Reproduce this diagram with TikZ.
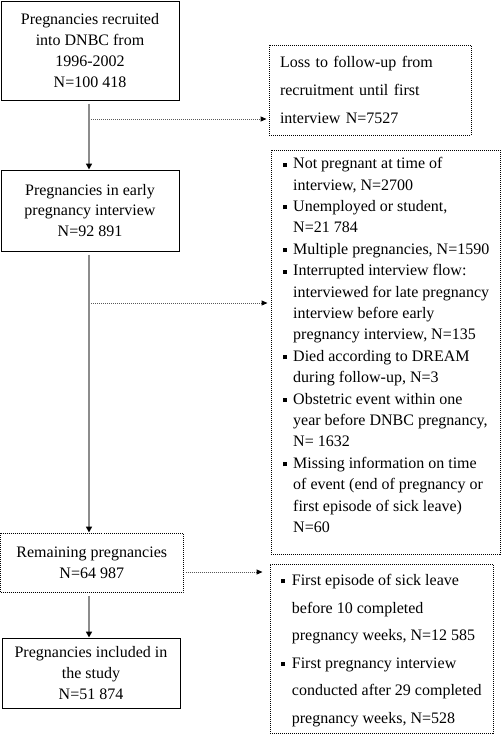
\documentclass[tikz,border=0pt]{standalone}
\usepackage{fontspec}
\setmainfont{Liberation Serif}
\usetikzlibrary{arrows.meta}
\newcommand\bul{\makebox[10.5pt][l]{\raisebox{2pt}{\rule{4pt}{4pt}}}}
\newcommand\ind{\hspace*{10.5pt}}
\begin{document}
\begin{tikzpicture}[x=1pt,y=-1pt,
  txt/.style={font=\fontsize{16}{20.7}\selectfont},
  wide/.style={font=\fontsize{16}{27.6}\selectfont},
  list/.style={font=\fontsize{16}{21.4}\selectfont, inner sep=0pt, align=left},
  solidbox/.style={draw=black, line width=1pt, inner sep=0pt, align=center, txt},
  dotbox/.style={draw=black, line width=1pt, dash pattern=on 1pt off 1pt, inner sep=0pt, txt},
  vline/.style={draw=black!45, line width=2pt, -{Triangle[length=6pt,width=6pt,black]}},
  dline/.style={draw=black!65, line width=1pt, dash pattern=on 1pt off 1pt, -{Triangle[length=6pt,width=5pt,black]}}]
\useasboundingbox (0,0) rectangle (503,734);

\node[solidbox, minimum width=178pt, minimum height=99pt] (b1) at (90,50.5)
  {Pregnancies recruited\\into DNBC from\\1996-2002\\N=100 418};
\node[dotbox, wide, minimum width=202pt, minimum height=90pt, text width=180pt, inner xsep=11pt, align=left] (b2) at (370,90)
  {Loss to follow-up from\\recruitment until first\\interview N=7527};
\node[solidbox, minimum width=178pt, minimum height=81pt] (b3) at (90,210.5)
  {Pregnancies in early\\pregnancy interview\\N=92 891};
\node[dotbox, minimum width=229pt, minimum height=404pt] (b4) at (385.5,352) {};
\node[list] (b4t) at ([xshift=0.5pt,yshift=7pt]b4.center)
  {\bul Not pregnant at time of\\
   \ind interview, N=2700\\
   \bul Unemployed or student,\\
   \ind N=21 784\\
   \bul Multiple pregnancies, N=1590\\
   \bul Interrupted interview flow:\\
   \ind interviewed for late pregnancy\\
   \ind interview before early\\
   \ind pregnancy interview, N=135\\
   \bul Died according to DREAM\\
   \ind during follow-up, N=3\\
   \bul Obstetric event within one\\
   \ind year before DNBC pregnancy,\\
   \ind N= 1632\\
   \bul Missing information on time\\
   \ind of event (end of pregnancy or\\
   \ind first episode of sick leave)\\
   \ind N=60};
\node[dotbox, minimum width=182.5pt, minimum height=59pt, align=center] (b5) at (91.75,562.5)
  {Remaining pregnancies\\N=64 987};
\node[dotbox, minimum width=223pt, minimum height=169pt] (b6) at (381.5,648.5) {};
\node[list, wide] (b6t) at ([yshift=-2pt]b6.center)
  {\bul First episode of sick leave\\
   \ind before 10 completed\\
   \ind pregnancy weeks, N=12 585\\
   \bul First pregnancy interview\\
   \ind conducted after 29 completed\\
   \ind pregnancy weeks, N=528};
\node[solidbox, minimum width=178pt, minimum height=70pt] (b7) at (91,673)
  {Pregnancies included in\\the study\\N=51 874};

\coordinate (ax) at (89,0);
\coordinate (j1) at (89,119);
\coordinate (j2) at (89,303);
\coordinate (j3) at (0,572);

\draw[vline, shorten <=3pt] (b1.south -| ax) -- (b3.north -| ax);
\draw[vline, shorten <=3pt] (b3.south -| ax) -- (b5.north -| ax);
\draw[vline, shorten <=3pt] (b5.south -| ax) -- (b7.north -| ax);

\draw[dline, shorten <=2pt, shorten >=2pt] (j1) -- (j1 -| b2.west);
\draw[dline, shorten <=2pt, shorten >=3pt] (j2) -- (j2 -| b4.west);
\draw[dline, shorten <=2pt, shorten >=7pt] (b5.east |- j3) -- (b6.west |- j3);
\end{tikzpicture}
\end{document}
